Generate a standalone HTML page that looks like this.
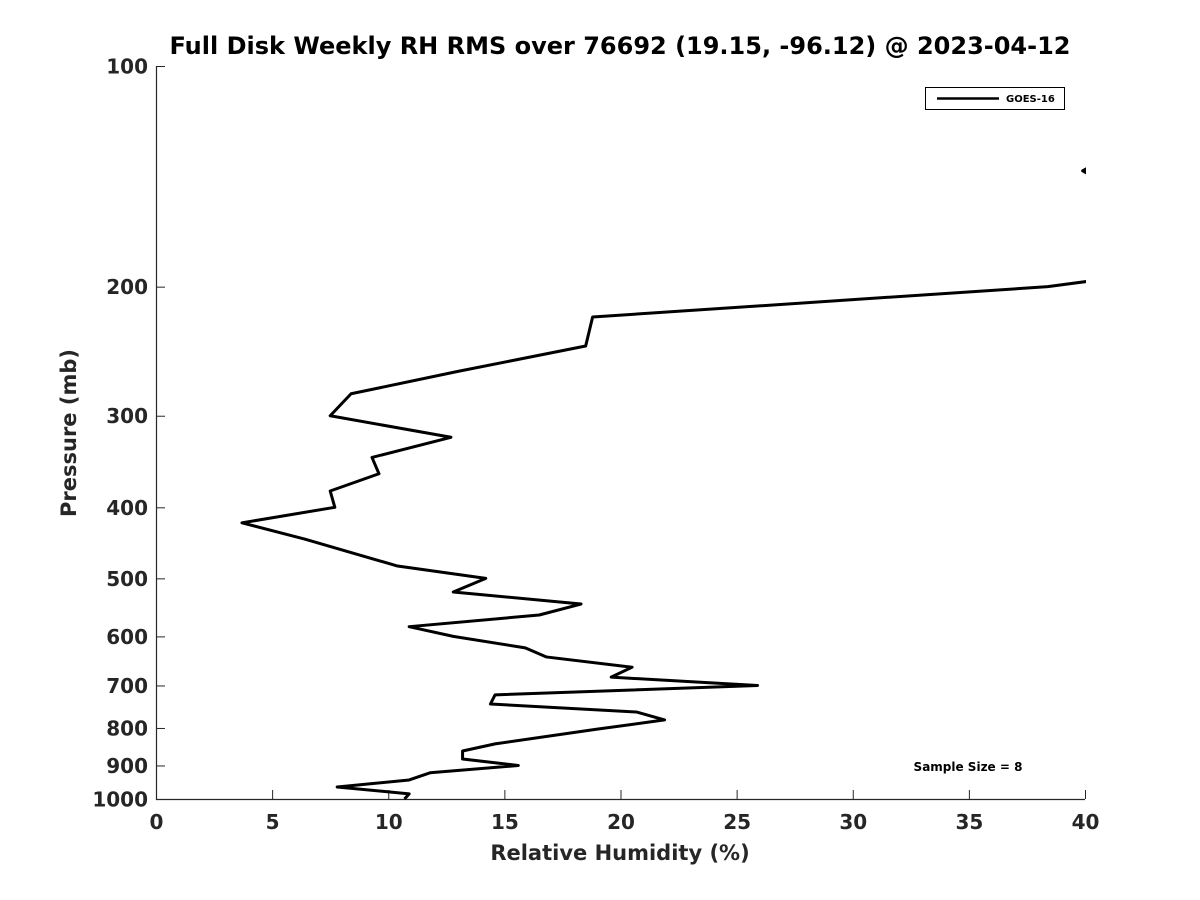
<!DOCTYPE html>
<html><head><meta charset="utf-8"><style>
html,body{margin:0;padding:0;background:#fff;}
svg{display:block;font-family:"DejaVu Sans","Liberation Sans",sans-serif;font-weight:bold;}
</style></head><body>
<svg id="chart" width="1200" height="900">
<rect width="1200" height="900" fill="#fff"/>
<text x="620" y="54" text-anchor="middle" font-size="24" fill="#000">Full Disk Weekly RH RMS over 76692 (19.15, -96.12) @ 2023-04-12</text>
<text x="620" y="860" text-anchor="middle" font-size="21" fill="#262626">Relative Humidity (%)</text>
<text transform="translate(76,433) rotate(-90)" text-anchor="middle" font-size="21" fill="#262626">Pressure (mb)</text>
<g id="axes"></g>
<defs><clipPath id="plotclip"><rect x="156" y="66" width="930" height="734"/></clipPath></defs>
<g clip-path="url(#plotclip)" id="series"></g>
<g>
<rect x="925.5" y="87.5" width="139" height="22" fill="#fff" stroke="#000" stroke-width="1"/>
<line x1="937" y1="98.5" x2="999" y2="98.5" stroke="#000" stroke-width="2.5"/>
<text x="1006" y="102" font-size="10" fill="#000">GOES-16</text>
</g>
<text x="968" y="771" text-anchor="middle" font-size="12" fill="#000">Sample Size = 8</text>
</svg>
<script>
const xTicks=[0,5,10,15,20,25,30,35,40];
const yTicks=[100,200,300,400,500,600,700,800,900,1000];
const pressures=[195,200,220,241,261,280,300,321,342,360,380,400,420,442,481,500,522,542,561,582,600,622,640,661,682,700,721,742,761,780,803,841,860,882,900,921,942,963,984,1000];
const rhValues=[41,38.4,18.8,18.5,13.0,8.4,7.5,12.7,9.3,9.6,7.5,7.7,3.7,6.4,10.4,14.2,12.8,18.3,16.5,10.9,12.8,15.9,16.8,20.5,19.6,25.9,14.6,14.4,20.7,21.9,19.0,14.6,13.2,13.2,15.6,11.8,10.9,7.8,10.9,10.7];
const upperPressures=[135,139,143];
const upperRh=[40.6,39.9,40.6];
const X0=156,X1=1085,Y0=66,Y1=799;
const xs=v=>X0+(v-0)/(40-0)*(X1-X0);
const ys=p=>Y0+(Math.log10(p)-2)/(3-2)*(Y1-Y0);
const NS="http://www.w3.org/2000/svg";
const axes=document.getElementById('axes');
function mk(tag,attrs,parent){const e=document.createElementNS(NS,tag);for(const k in attrs)e.setAttribute(k,attrs[k]);parent.appendChild(e);return e;}
const ax=mk('path',{d:`M${X0+0.5},${Y0} V${Y1+0.5} H${X1}`,fill:'none',stroke:'#262626','stroke-width':1.2},axes);


xTicks.forEach(v=>{const x=xs(v)+0.5;
const t=mk('line',{x1:x,x2:x,y1:Y1,y2:Y1-9,stroke:'#262626','stroke-width':1},axes);


const l=mk('text',{x:x,y:Y1+30,'text-anchor':'middle','font-size':20,fill:'#262626'},axes);l.textContent=v;

});
yTicks.forEach(p=>{const y=ys(p)+0.5;
const t=mk('line',{x1:X0,x2:X0+9,y1:y,y2:y,stroke:'#262626','stroke-width':1},axes);


const l=mk('text',{x:X0-8,y:y+7,'text-anchor':'end','font-size':20,fill:'#262626'},axes);l.textContent=p;

});
const sg=document.getElementById('series');
const line=mk('polyline',{points:pressures.map((p,i)=>xs(rhValues[i])+','+ys(p)).join(' '),fill:'none',stroke:'#000','stroke-width':3,'stroke-linejoin':'round'},sg);


const up=mk('polyline',{points:upperPressures.map((p,i)=>xs(upperRh[i])+','+ys(p)).join(' '),fill:'none',stroke:'#000','stroke-width':3,'stroke-linejoin':'round'},sg);


</script>
</body></html>
